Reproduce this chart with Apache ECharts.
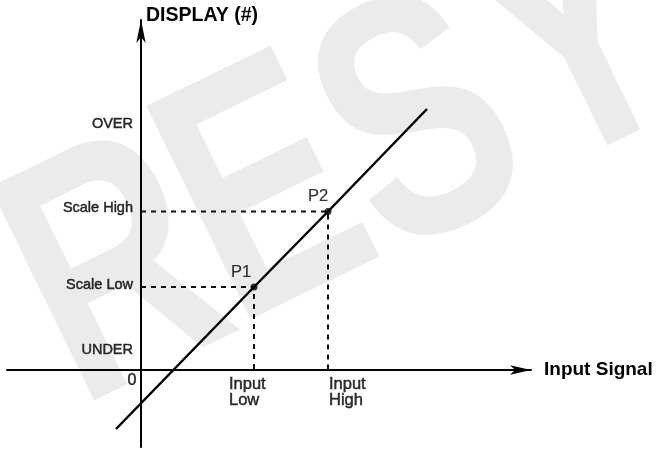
<!DOCTYPE html>
<html><head><meta charset="utf-8">
<script src="https://cdn.jsdelivr.net/npm/echarts@6/dist/echarts.min.js"></script>
<style>html,body{margin:0;padding:0;background:#fff}#c{width:657px;height:449px}</style>
</head><body><div id="c"></div>
<script>
// ---- data ----
const axisNames = ['Input Signal', 'DISPLAY (#)'];
const inputLow = 11.3, inputHigh = 18.7;
const scaleLow = 8.3, scaleHigh = 15.85;
const yLevelNames = ['UNDER', 'Scale Low', 'Scale High', 'OVER'];
const yLevelValues = [2.0, scaleLow, scaleHigh, 24.6];
const xTickLabels = ['0', 'Input\nLow', 'Input\nHigh'];
const xTickValues = [0, inputLow, inputHigh];
const lineX = [-2.5, inputLow, inputHigh, 28.6];
const lineY = [-5.9, scaleLow, scaleHigh, 26.1];
const pointNames = ['P1', 'P2'];
const pointX = [inputLow, inputHigh];
const pointY = [scaleLow, scaleHigh];
const watermarkLetters = ['R', 'E', 'S', 'Y'];

// ---- chart ----
const FONT = "'Liberation Sans', Arial, Helvetica, sans-serif";
const chart = echarts.init(document.getElementById('c'), null, {renderer: 'canvas'});
const wmPos = [[120, 282], [270, 204], [424, 136], [582, 52]];
const TXT = {fontFamily: FONT, color: '#000', textBorderColor: '#000', textBorderWidth: 0.5};
const xLabelStyles = [
  {offset: [-9, 11], align: 'center', verticalAlign: 'middle', fontSize: 16},
  {offset: [-25, 6], align: 'left', verticalAlign: 'top', fontSize: 16.5, lineHeight: 16},
  {offset: [1, 6], align: 'left', verticalAlign: 'top', fontSize: 16.5, lineHeight: 16}
];
const pointLabelOffsets = [[-13, -15], [-10, -15]];
const yLabelOffsets = [[-8, 0], [-8, -1.7], [-8, -3.5], [-8, 0]];

const option = {
  animation: false,
  backgroundColor: '#ffffff',
  graphic: watermarkLetters.map((ch, i) => ({
    type: 'text', x: wmPos[i][0], y: wmPos[i][1], rotation: 26 * Math.PI / 180,
    scaleX: 0.74, z: -10, silent: true,
    style: {text: ch, font: 'bold 345px ' + FONT, fill: '#ebebeb',
      align: 'center', verticalAlign: 'middle', textAlign: 'center', textVerticalAlign: 'middle'}
  })),
  grid: {left: 7, right: 126, top: 20, bottom: 2, containLabel: false, outerBoundsMode: 'none'},
  xAxis: {
    type: 'value', min: -13.4, max: 39.0,
    name: axisNames[0], nameLocation: 'end', nameGap: 13,
    nameTextStyle: {fontFamily: FONT, fontWeight: 'bold', fontSize: 19, color: '#000', align: 'left', verticalAlign: 'middle'},
    axisLine: {onZero: true, symbol: ['none', 'arrow'], symbolSize: [7, 21], lineStyle: {color: '#000', width: 2}},
    axisTick: {show: false}, axisLabel: {show: false}, splitLine: {show: false}
  },
  yAxis: {
    type: 'value', min: -7.7, max: 35.0,
    name: axisNames[1], nameLocation: 'end', nameGap: 4,
    nameTextStyle: {fontFamily: FONT, fontWeight: 'bold', fontSize: 19.5, color: '#000', align: 'left', verticalAlign: 'middle', padding: [0, 0, 0, 5]},
    axisLine: {onZero: true, symbol: ['none', 'arrow'], symbolSize: [7, 23], lineStyle: {color: '#000', width: 2}},
    axisTick: {show: false}, axisLabel: {show: false}, splitLine: {show: false}
  },
  series: [
    {
      type: 'line', name: 'guideLow', silent: true, showSymbol: false, z: 2,
      data: [[0, scaleLow], [inputLow, scaleLow], [inputLow, 0]],
      lineStyle: {color: '#111', width: 2, type: [5, 5]}
    },
    {
      type: 'line', name: 'guideHigh', silent: true, showSymbol: false, z: 2,
      data: [[0, scaleHigh], [inputHigh, scaleHigh], [inputHigh, 0]],
      lineStyle: {color: '#111', width: 2, type: [5, 5]}
    },
    {
      type: 'line', name: 'transfer', silent: true, showSymbol: false, z: 3,
      data: lineX.map((x, i) => [x, lineY[i]]),
      lineStyle: {color: '#000', width: 2.5}
    },
    {
      type: 'scatter', name: 'points', silent: true, z: 4, symbolSize: 7,
      itemStyle: {color: '#000'},
      data: pointX.map((x, i) => ({
        value: [x, pointY[i]], name: pointNames[i],
        label: Object.assign({show: true, formatter: pointNames[i], position: 'inside', offset: pointLabelOffsets[i],
          align: 'center', verticalAlign: 'middle', fontSize: 16.5}, TXT, {textBorderWidth: 0.2})
      }))
    },
    {
      type: 'scatter', name: 'xLabels', silent: true, z: 4, symbolSize: 0,
      data: xTickValues.map((x, i) => ({
        value: [x, 0],
        label: Object.assign({show: true, formatter: xTickLabels[i], position: 'inside'}, TXT, xLabelStyles[i])
      }))
    },
    {
      type: 'scatter', name: 'yLabels', silent: true, z: 4, symbolSize: 0,
      data: yLevelValues.map((y, i) => ({
        value: [0, y],
        label: Object.assign({show: true, formatter: yLevelNames[i], position: 'inside', offset: yLabelOffsets[i],
          align: 'right', verticalAlign: 'middle', fontSize: 14.5}, TXT)
      }))
    }
  ]
};
chart.setOption(option);
</script>
</body></html>
